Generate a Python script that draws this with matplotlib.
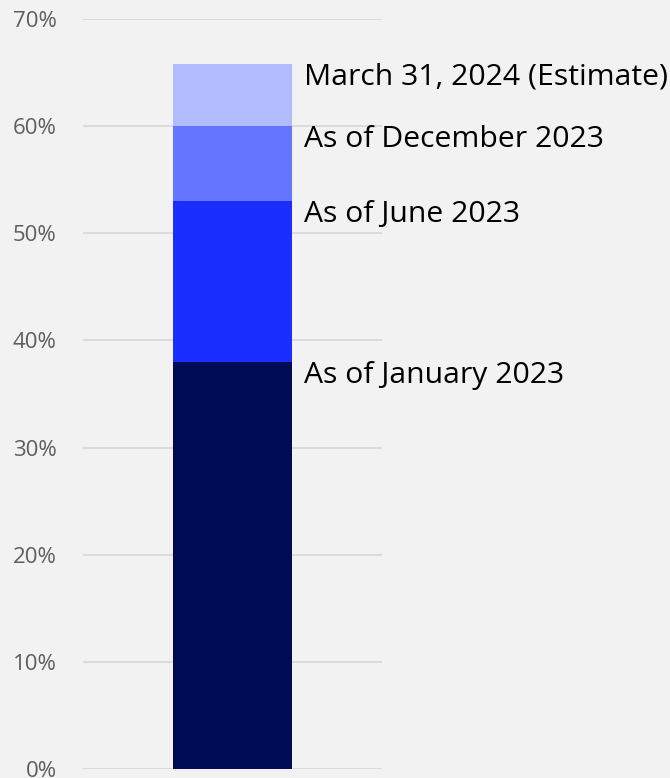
import numpy as np
import matplotlib
matplotlib.use("Agg")
import matplotlib.pyplot as plt

# stacked share values (percent), bottom to top
etiquetas = ["As of January 2023", "As of June 2023", "As of December 2023",
             "March 31, 2024 (Estimate)"]
valores = [38.0, 15.0, 7.0, 5.8]
cores = ["#000B56", "#1A2FFF", "#6476FF", "#B1BBFF"]
ticks_y = [0, 10, 20, 30, 40, 50, 60, 70]

plt.rcParams['font.family'] = ['Open Sans', 'DejaVu Sans']

fig = plt.figure(figsize=(6.7, 7.78), dpi=100)
fig.patch.set_facecolor("#F2F2F2")
ax = fig.add_axes([0.124, 0.0116, 0.446, 0.964])
ax.set_facecolor("#F2F2F2")

base = 0.0
for rotulo, v, c in zip(etiquetas, valores, cores):
    ax.bar(0.5, v, width=0.4, bottom=base, color=c, zorder=2)
    topo = base + v
    # label: cap tops roughly level with the top of its segment
    ax.annotate(rotulo, xy=(0.74, topo), xytext=(0, -15), textcoords="offset points",
                ha="left", va="baseline", fontsize=21.7, color="#000000",
                annotation_clip=False)
    base = topo

ax.set_xlim(0, 1)
ax.set_ylim(0, 70)
ax.set_yticks(ticks_y)
ax.set_yticklabels([f"{t}%" for t in ticks_y])
ax.set_xticks([])
ax.tick_params(axis="y", length=0, pad=19, labelsize=16, labelcolor="#5E5E5E")
ax.grid(axis="y", color="#D9D9D9", linewidth=1.3, zorder=0)
for s in ax.spines.values():
    s.set_visible(False)

fig.savefig("out.png", dpi=100, facecolor=fig.get_facecolor())
